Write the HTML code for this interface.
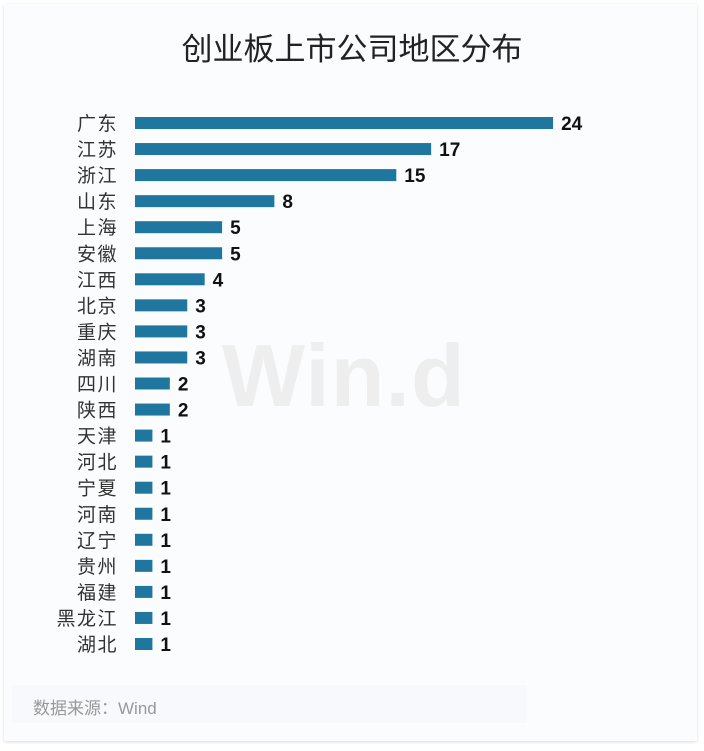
<!DOCTYPE html>
<html><head><meta charset="utf-8"><style>
body{margin:0;width:704px;height:751px;background:#fff;position:relative;overflow:hidden;font-family:"Liberation Sans","Noto Sans CJK SC",sans-serif}
.card{position:absolute;left:4px;top:4px;width:693px;height:737px;background:#fafcfe;box-shadow:0 1px 3px rgba(0,0,0,0.15)}
.t{position:absolute;left:0;width:704px;top:24px;text-align:center;font-size:31px;color:#222}
.src{position:absolute;left:12px;top:685px;width:515px;height:38px;background:#f7f9fc}
.srct{position:absolute;left:33px;top:694px;font-size:17px;color:#999}
.wm{position:absolute;left:222px;top:325px;font-size:88px;font-weight:bold;color:#eeeeee;letter-spacing:1px}
</style></head><body>
<div class="card"></div>
<div class="t">创业板上市公司地区分布</div>
<div class="wm">Win.d</div>
<div class="src"></div>
<div class="srct">数据来源：Wind</div>
<svg width="704" height="751" style="position:absolute;left:0;top:0">
<g id="g" font-family="Liberation Sans, Noto Sans CJK SC, sans-serif"></g>
</svg>
<script>
var d=[["广东",24],["江苏",17],["浙江",15],["山东",8],["上海",5],["安徽",5],["江西",4],["北京",3],["重庆",3],["湖南",3],["四川",2],["陕西",2],["天津",1],["河北",1],["宁夏",1],["河南",1],["辽宁",1],["贵州",1],["福建",1],["黑龙江",1],["湖北",1]];
var s="";d.forEach(function(r,i){var y=117+i*26.05,w=r[1]*17.42;
s+='<rect x="135" y="'+y+'" width="'+w+'" height="12" fill="#1f77a0"/>';
s+='<text x="118" y="'+(y+13)+'" text-anchor="end" font-size="19" letter-spacing="1.5" fill="#333">'+r[0]+'</text>';
s+='<text x="'+(135+w+8)+'" y="'+(y+13)+'" font-size="19" font-weight="bold" fill="#111">'+r[1]+'</text>';});
document.getElementById("g").innerHTML=s;
</script>
</body></html>
